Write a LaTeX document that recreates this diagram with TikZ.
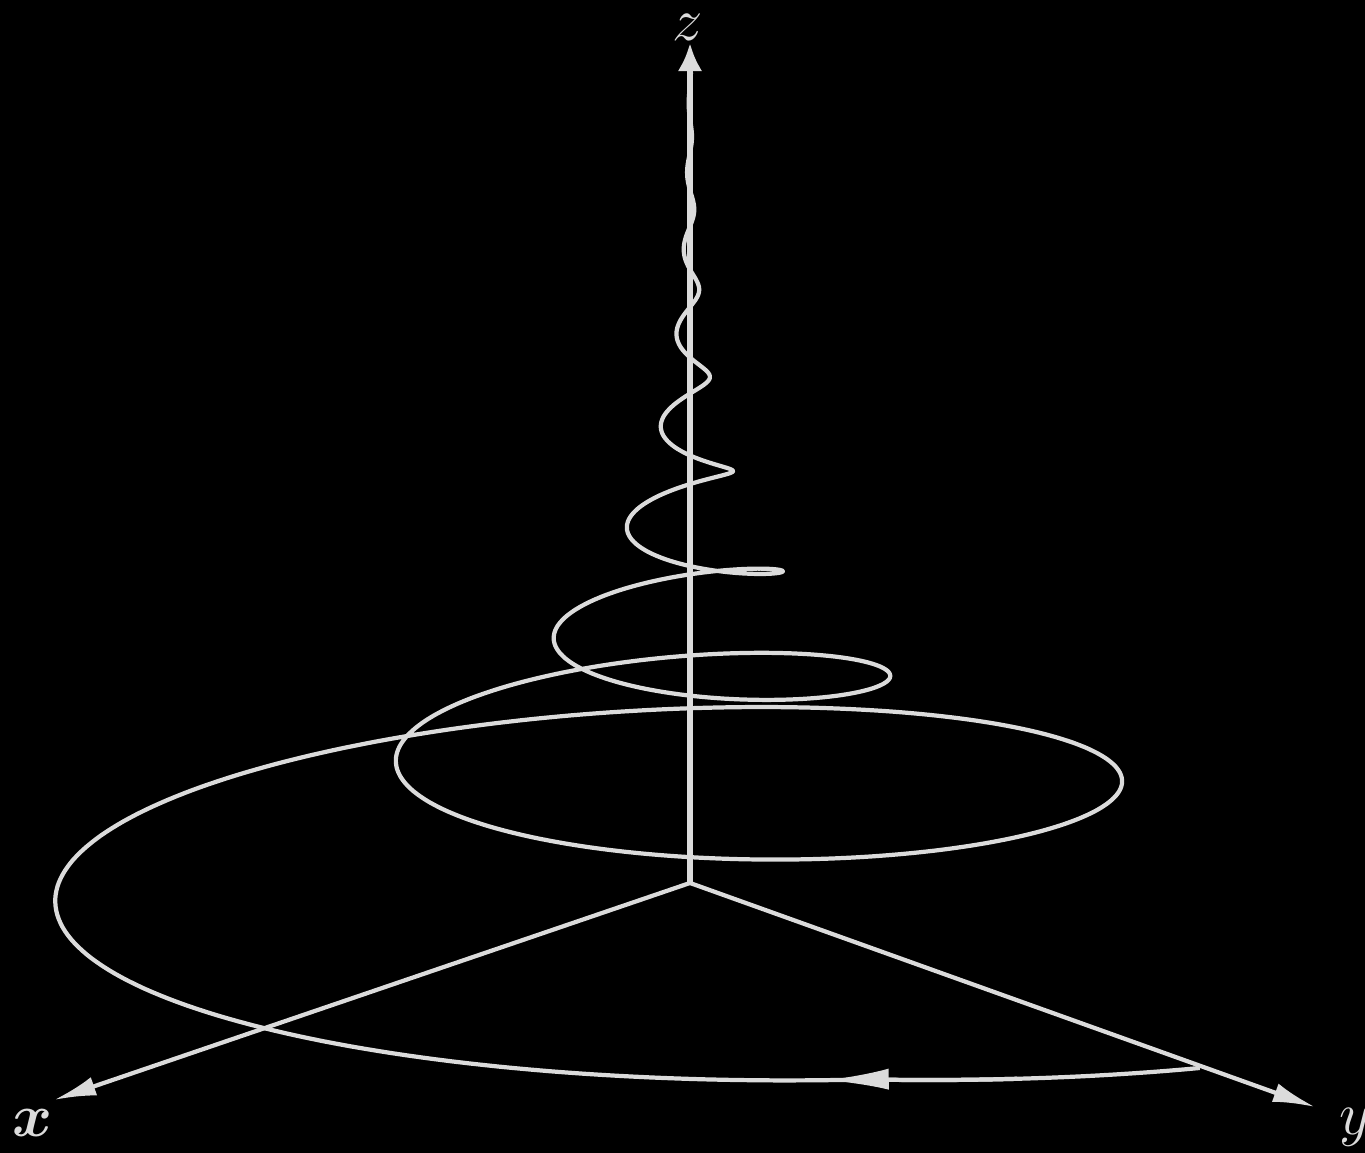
\documentclass[tikz,border=0pt]{standalone}
\usepackage{amsmath,amssymb}
\usepackage{xcolor}
\usetikzlibrary{arrows.meta}

\definecolor{wire}{gray}{0.86}

\begin{document}
\begin{tikzpicture}[
  curve/.style={draw=wire, line width=1.2pt, line join=round},
  axisline/.style={draw=wire, line width=1.2pt, -{Latex[length=12pt,width=5.5pt]}},
  zline/.style={draw=wire, line width=1.5pt, -{Latex[length=8pt,width=7pt]}},
  flowtip/.style={curve, -{Latex[length=18pt,width=6pt]}},
  axlabel/.style={text=wire, font=\fontsize{18}{20}\selectfont, inner sep=0pt},
  declare function={
    amp(\t)=8.28*exp(-0.00213*\t);
    lift(\t)=-0.2615+0.0035487*\t-0.002901*(\t/100)*(\t/100)-0.15*max(0,1-\t/25);
    px(\t)=6.90+amp(\t)*sin(38-\t);
    py(\t)=2.70+amp(\t)*(0.025*sin(38-\t)-0.24*cos(38-\t))+lift(\t);
  }
]
% black page
\fill[black] (0,0) rectangle (13.65,11.53);
\useasboundingbox (0,0) rectangle (13.65,11.53);

% axes
\coordinate (O) at (6.90,2.70);
\coordinate (xend) at (0.54,0.53);
\coordinate (yend) at (13.15,0.46);
\coordinate (zend) at (6.90,11.10);
\node[axlabel] (xlab) at (0.33,0.30) {$\boldsymbol{x}$};
\node[axlabel] (ylab) at (13.55,0.26) {$y$};
\node[axlabel] (zlab) at (6.88,11.26) {$z$};

% the spiral, winding in and climbing the z axis
\draw[curve] plot[domain=0:3175, samples=2400] ({px(\x)},{py(\x)});
\draw[flowtip] plot[domain=14:28, samples=8] ({px(\x)},{py(\x)});

\draw[axisline] (O) -- (xend);
\draw[axisline] (O) -- (yend);
\draw[zline] (O) -- (zend);
\end{tikzpicture}
\end{document}
